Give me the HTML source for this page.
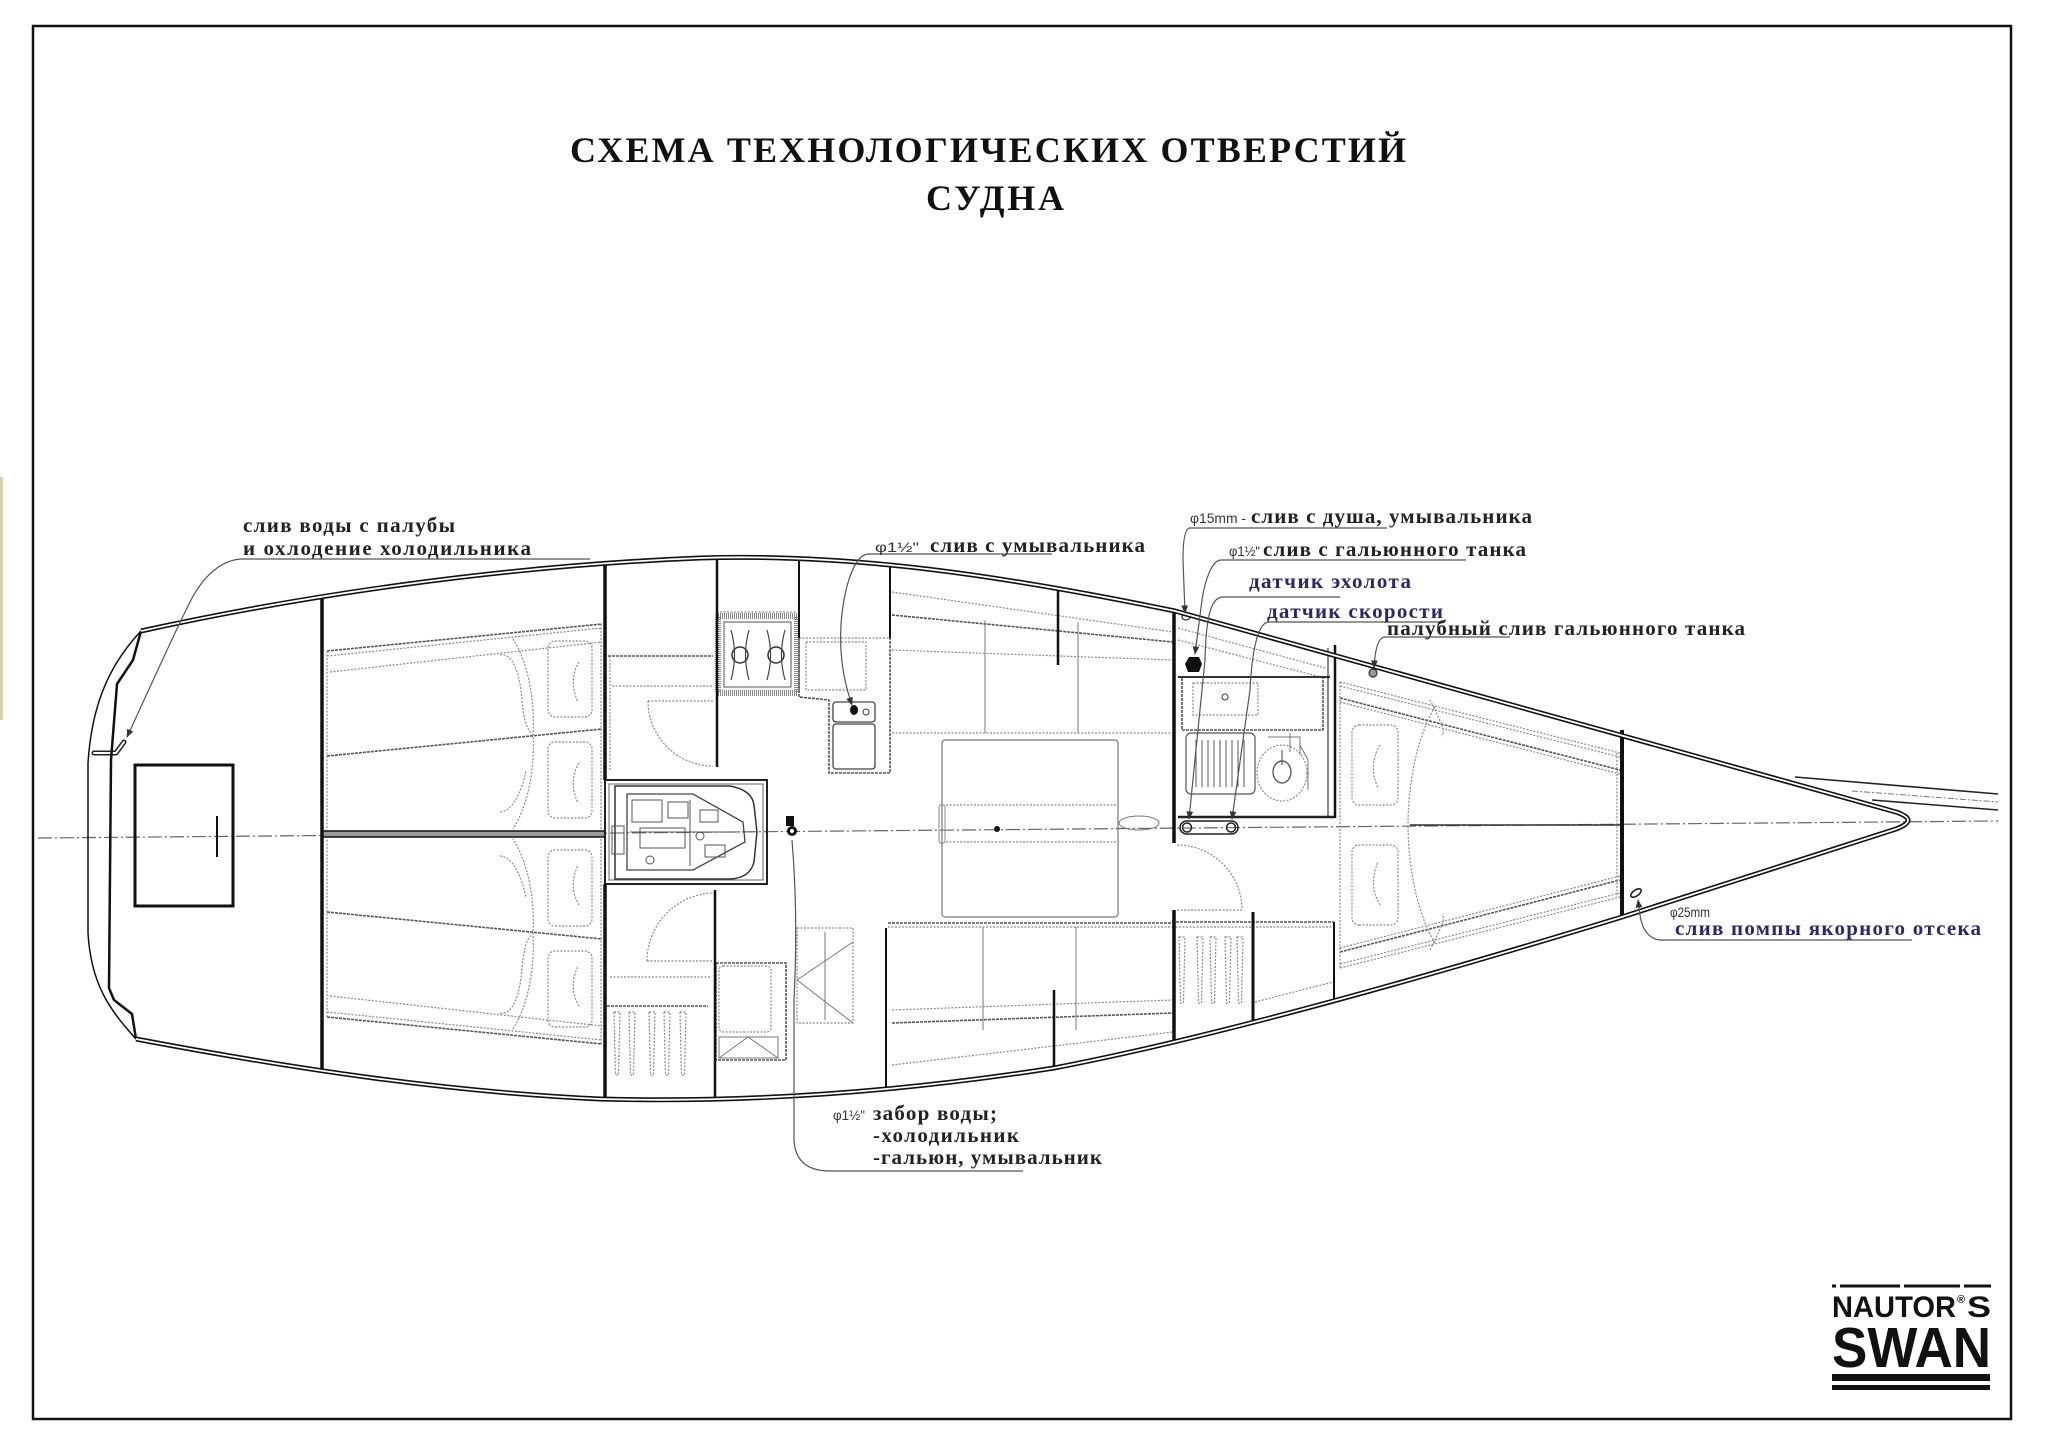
<!DOCTYPE html>
<html><head><meta charset="utf-8">
<style>
html,body{margin:0;padding:0;background:#fff;}
svg{display:block;}
.t{font-family:"Liberation Serif","DejaVu Serif",serif;font-weight:bold;fill:#222;font-size:21px;}
.nv{fill:#2b2866;}
.sm{font-family:"Liberation Sans","DejaVu Sans",sans-serif;font-size:14px;fill:#333;}
.ttl{font-family:"Liberation Serif","DejaVu Serif",serif;font-weight:bold;fill:#111;font-size:36px;}
.g{fill:none;stroke:#8a8a8a;stroke-width:1.2;stroke-dasharray:2 1.5;}
.gd{fill:none;stroke:#555;stroke-width:1.6;stroke-dasharray:3 1;}
.gs{fill:none;stroke:#777;stroke-width:1;}
.bk{fill:none;stroke:#111;stroke-linecap:butt;}
.ld{fill:none;stroke:#555;stroke-width:1.2;}
.logo{font-family:"Liberation Sans","DejaVu Sans",sans-serif;font-weight:bold;fill:#111;}
</style></head><body>
<svg width="2048" height="1443" viewBox="0 0 2048 1443" xmlns="http://www.w3.org/2000/svg">
<defs>
<marker id="ar" viewBox="0 0 10 10" refX="9" refY="5" markerWidth="7" markerHeight="7" orient="auto"><path d="M0,1 L10,5 L0,9 z" fill="#333"/></marker>
</defs>
<rect x="0" y="0" width="2048" height="1443" fill="#fff"/>
<rect x="0" y="477" width="3" height="243" fill="#d9cfae"/>
<!-- frame -->
<rect x="33" y="26" width="1978" height="1393" fill="none" stroke="#111" stroke-width="2.5"/>

<!-- title -->
<text class="ttl" x="570" y="162" textLength="836" lengthAdjust="spacing">СХЕМА ТЕХНОЛОГИЧЕСКИХ ОТВЕРСТИЙ</text>
<text class="ttl" x="926" y="210" textLength="138" lengthAdjust="spacing">СУДНА</text>

<!-- centerline -->
<line x1="38" y1="838" x2="1998" y2="821" stroke="#666" stroke-width="1.2" stroke-dasharray="14 3 2 3"/>

<!-- stern box -->
<rect x="135" y="765" width="98" height="141" fill="none" stroke="#111" stroke-width="3"/>
<line x1="217" y1="816" x2="217" y2="857" stroke="#111" stroke-width="2"/>

<!-- stern tube -->
<path d="M94,753 L116,753 L124,742" fill="none" stroke="#222" stroke-width="5" stroke-linecap="round" stroke-linejoin="round"/>
<path d="M94,753 L116,753 L124,742" fill="none" stroke="#fff" stroke-width="2" stroke-linecap="round" stroke-linejoin="round"/>

<!-- ===== AFT CABIN (top) ===== -->
<g id="aftc">
<path class="gd" d="M327,651 L602,624"/>
<path class="g" d="M327,656 L602,628"/>
<path class="g" d="M330,672 L602,642"/>
<path class="gd" d="M327,756 L602,729"/>
<path class="g" d="M601,624 L601,830"/>
<path class="g" d="M327,651 L327,830"/>
<rect class="g" x="548" y="641" width="44" height="76" rx="7"/>
<rect class="g" x="548" y="742" width="44" height="76" rx="7"/>
<path class="g" d="M579,662 Q568,680 578,702"/>
<path class="g" d="M579,763 Q568,781 578,803"/>
<path class="g" d="M513,639 C528,662 535,700 533,734 C535,770 528,805 513,829"/>
<path class="g" d="M500,655 C512,652 520,672 522,700 C524,722 527,730 533,734"/>
<path class="g" d="M500,812 C512,812 522,792 526,770"/>
</g>
<g transform="matrix(1,0,0,-1,0,1668)">
<path class="gd" d="M327,651 L602,624"/>
<path class="g" d="M327,656 L602,628"/>
<path class="g" d="M330,672 L602,642"/>
<path class="gd" d="M327,756 L602,729"/>
<path class="g" d="M601,624 L601,830"/>
<path class="g" d="M327,651 L327,830"/>
<rect class="g" x="548" y="641" width="44" height="76" rx="7"/>
<rect class="g" x="548" y="742" width="44" height="76" rx="7"/>
<path class="g" d="M579,662 Q568,680 578,702"/>
<path class="g" d="M579,763 Q568,781 578,803"/>
<path class="g" d="M513,639 C528,662 535,700 533,734 C535,770 528,805 513,829"/>
<path class="g" d="M500,655 C512,652 520,672 522,700 C524,722 527,730 533,734"/>
<path class="g" d="M500,812 C512,812 522,792 526,770"/>
</g>
<!-- aft cabin divider -->
<rect x="322" y="831" width="283" height="6" fill="#999" stroke="#111" stroke-width="1.5"/>

<!-- ===== passage 605-717 ===== -->
<path class="gd" d="M608,656 L713,656"/>
<path class="g" d="M612,686 L713,686"/>
<path class="g" d="M610,656 L610,770"/>
<path class="g" d="M648,701 A65,65 0 0 0 713,766"/>
<path class="g" d="M648,701 L713,701"/>
<path class="g" d="M610,977 L710,977"/>
<path class="gd" d="M607,1006 L708,1006"/>
<path class="g" d="M647,961 A68,68 0 0 1 715,893"/>
<path class="g" d="M647,961 L715,961"/>
<g class="g">
<path d="M614,1012 L620,1012 L618.5,1075 L615.5,1075 Z"/>
<path d="M629,1012 L635,1012 L633.5,1075 L630.5,1075 Z"/>
<path d="M649,1012 L655,1012 L653.5,1075 L650.5,1075 Z"/>
<path d="M664,1012 L670,1012 L668.5,1075 L665.5,1075 Z"/>
<path d="M680,1012 L686,1012 L684.5,1075 L681.5,1075 Z"/>
</g>

<!-- engine box -->
<rect x="605" y="780" width="162" height="104" fill="none" stroke="#222" stroke-width="2"/>
<rect x="609" y="784" width="154" height="96" fill="none" stroke="#666" stroke-width="1"/>
<path d="M615,786 L730,786 Q752,790 754,805 L757,832 L754,862 Q750,878 730,879 L615,879 Z" fill="none" stroke="#333" stroke-width="1.5"/>
<path d="M627,794 L693,794 L743,822 L745,842 L693,870 L627,870 Z" fill="none" stroke="#444" stroke-width="1.3"/>
<g fill="none" stroke="#555" stroke-width="1">
<rect x="632" y="800" width="30" height="22"/>
<rect x="640" y="828" width="45" height="20"/>
<rect x="612" y="826" width="12" height="28"/>
<rect x="668" y="802" width="20" height="16"/>
<circle cx="650" cy="860" r="4"/>
<circle cx="700" cy="836" r="4"/>
<line x1="630" y1="832" x2="740" y2="832"/>
<line x1="690" y1="800" x2="690" y2="866"/>
<rect x="700" y="810" width="18" height="12"/>
<rect x="705" y="845" width="20" height="12"/>
</g>
<!-- centre valve -->
<rect x="786" y="816" width="8" height="10" fill="#111"/>
<circle cx="792" cy="831" r="5" fill="#111"/>
<circle cx="792" cy="831" r="2" fill="#fff"/>

<!-- ===== galley ===== -->
<rect x="718" y="616" width="79" height="77" fill="none" stroke="#888" stroke-width="6" stroke-dasharray="1 1"/>
<rect x="724" y="622" width="67" height="65" fill="none" stroke="#555" stroke-width="1"/>
<circle cx="740" cy="655" r="8" fill="none" stroke="#333" stroke-width="1.5"/>
<circle cx="776" cy="655" r="8" fill="none" stroke="#333" stroke-width="1.5"/>
<path d="M731,630 Q738,655 731,680 M749,630 Q742,655 749,680 M767,630 Q774,655 767,680 M785,630 Q778,655 785,680" fill="none" stroke="#444" stroke-width="1.2"/>
<path class="g" d="M720,612 L797,612"/>
<path class="gd" d="M799,638 L799,697 L829,700 L829,773 L890,773 L890,638"/>
<path class="g" d="M799,638 L890,638"/>
<rect class="g" x="806" y="642" width="60" height="48"/>
<rect x="833" y="702" width="42" height="20" rx="3" fill="none" stroke="#444" stroke-width="1.3"/>
<rect x="833" y="724" width="42" height="45" rx="3" fill="none" stroke="#444" stroke-width="1.3"/>
<ellipse cx="854" cy="710" rx="4" ry="5" fill="#111"/>
<circle cx="866" cy="712" r="3" fill="none" stroke="#333"/>

<!-- ===== saloon ===== -->
<path class="g" d="M892,592 L1173,632"/>
<path class="gd" d="M892,615 L1173,642"/>
<path class="g" d="M892,650 L1173,660"/>
<path class="g" d="M892,733 L1173,733"/>
<path class="gs" d="M985,620 L985,733 M1078,622 L1078,733"/>
<rect x="942" y="740" width="176" height="177" rx="3" fill="none" stroke="#777" stroke-width="1.2"/>
<path class="g" d="M946,805 L1118,805 M946,842 L1118,842"/>
<rect x="939" y="805" width="6" height="38" rx="2" fill="none" stroke="#888" stroke-width="1"/>
<circle cx="997" cy="829" r="3" fill="#111"/>
<ellipse cx="1139" cy="823" rx="20" ry="7" fill="none" stroke="#777" stroke-width="1"/>
<path class="gd" d="M888,923 L1173,923"/>
<path class="g" d="M888,927 L1173,927"/>
<path class="g" d="M892,1010 L1173,1000"/>
<path class="gd" d="M892,1023 L1173,1013"/>
<path class="g" d="M892,1065 L1173,1032"/>
<path class="gs" d="M983,927 L983,1030 M1076,927 L1076,1030"/>
<!-- chart table -->
<rect class="g" x="797" y="928" width="56" height="95"/>
<path class="gs" d="M797,980 L853,942 M797,980 L853,1023 M825,932 L825,1020"/>
<!-- small cabinet -->
<rect class="gd" x="716" y="963" width="70" height="97"/>
<rect class="g" x="719" y="966" width="52" height="66" rx="4"/>
<path class="gs" d="M719,1037 L778,1037 L778,1058 L719,1058 Z M719,1058 L748,1037 L778,1058"/>

<!-- ===== head ===== -->
<path class="g" d="M1178,628 L1325,668"/>
<path class="g" d="M1178,640 L1325,678"/>
<rect class="gd" x="1182" y="677" width="141" height="53"/>
<rect class="g" x="1193" y="683" width="65" height="32"/>
<circle cx="1225" cy="697" r="3" fill="none" stroke="#333"/>
<line x1="1178" y1="677" x2="1330" y2="677" stroke="#333" stroke-width="2"/>
<rect x="1186" y="733" width="69" height="61" rx="5" fill="none" stroke="#555" stroke-width="1.2"/>
<g stroke="#555" stroke-width="1">
<line x1="1196" y1="740" x2="1196" y2="787"/><line x1="1202" y1="740" x2="1202" y2="787"/>
<line x1="1208" y1="740" x2="1208" y2="787"/><line x1="1214" y1="740" x2="1214" y2="787"/>
<line x1="1220" y1="740" x2="1220" y2="787"/><line x1="1226" y1="740" x2="1226" y2="787"/>
<line x1="1232" y1="740" x2="1232" y2="787"/><line x1="1238" y1="740" x2="1238" y2="787"/>
<line x1="1244" y1="740" x2="1244" y2="787"/>
</g>
<ellipse class="g" cx="1282" cy="773" rx="25" ry="28"/>
<ellipse cx="1282" cy="772" rx="9" ry="11" fill="none" stroke="#444" stroke-width="1.2"/>
<line x1="1282" y1="750" x2="1282" y2="765" stroke="#444"/>
<path class="gs" d="M1268,737 L1300,737 L1300,755 M1290,733 L1290,752 M1300,745 L1308,760 L1308,790"/>
<line x1="1178" y1="817" x2="1335" y2="817" stroke="#222" stroke-width="2.5"/>
<rect x="1180" y="821" width="58" height="13" rx="6.5" fill="none" stroke="#222" stroke-width="1.6"/>
<circle cx="1187" cy="827.5" r="4.5" fill="none" stroke="#222" stroke-width="1.5"/>
<circle cx="1231" cy="827.5" r="4.5" fill="none" stroke="#222" stroke-width="1.5"/>
<path class="g" d="M1177,845 A65,65 0 0 1 1242,910"/>
<path class="g" d="M1177,910 L1242,910"/>
<!-- fittings head -->
<path d="M1189,657 L1199,657 L1202,664 L1199,672 L1188,672 L1185,664 Z" fill="#111"/>
<ellipse cx="1186" cy="617" rx="4" ry="3" fill="none" stroke="#333" stroke-width="1.3"/>
<!-- lower locker fwd -->
<path class="gd" d="M1172,922 L1334,922"/>
<path class="g" d="M1172,927 L1334,927"/>
<g class="g">
<path d="M1179,937 L1185,937 L1183.5,1003 L1180.5,1003 Z"/>
<path d="M1197,937 L1203,937 L1201.5,1003 L1198.5,1003 Z"/>
<path d="M1210,937 L1216,937 L1214.5,1003 L1211.5,1003 Z"/>
<path d="M1225,937 L1231,937 L1229.5,1003 L1226.5,1003 Z"/>
<path d="M1237,937 L1243,937 L1241.5,1003 L1238.5,1003 Z"/>
</g>
<path class="g" d="M1255,1002 L1333,982"/>

<!-- ===== forward cabin ===== -->
<g>
<path class="g" d="M1340,682 L1620,753"/>
<path class="g" d="M1340,686 L1620,757"/>
<path class="gd" d="M1340,698 L1620,770"/>
<path class="g" d="M1340,702 L1620,774"/>
<rect class="g" x="1352" y="725" width="46" height="80" rx="7"/>
<path class="g" d="M1380,745 Q1368,765 1378,788"/>
<path class="g" d="M1435,707 C1415,740 1408,790 1408,825"/>
<path class="g" d="M1430,700 L1436,712 C1440,722 1446,730 1442,736"/>
</g>
<g transform="matrix(1,0,0,-1,0,1650)">
<path class="g" d="M1340,682 L1620,753"/>
<path class="g" d="M1340,686 L1620,757"/>
<path class="gd" d="M1340,698 L1620,770"/>
<path class="g" d="M1340,702 L1620,774"/>
<rect class="g" x="1352" y="725" width="46" height="80" rx="7"/>
<path class="g" d="M1380,745 Q1368,765 1378,788"/>
<path class="g" d="M1435,707 C1415,740 1408,790 1408,825"/>
<path class="g" d="M1430,700 L1436,712 C1440,722 1446,730 1442,736"/>
</g>
<path class="g" d="M1340,682 L1340,968"/>
<path class="g" d="M1617,753 L1617,897"/>
<line x1="1410" y1="825" x2="1620" y2="825" stroke="#333" stroke-width="1.5"/>
<!-- deck drain -->
<circle cx="1373" cy="673" r="4" fill="#999" stroke="#333" stroke-width="1.2"/>
<!-- anchor drain -->
<ellipse cx="1636" cy="893" rx="6" ry="3" transform="rotate(-35 1636 893)" fill="none" stroke="#222" stroke-width="1.6"/>

<!-- ===== bulkheads ===== -->
<g class="bk">
<path d="M322,596 L322,1071" stroke-width="3.5"/>
<path d="M605,564 L605,780 M605,884 L605,1098" stroke-width="3.5"/>
<path d="M717,558 L717,767" stroke-width="2.5"/>
<path d="M715,890 L715,1100" stroke-width="2.5"/>
<path d="M799,560 L799,638 M890,567 L890,638" stroke-width="2"/>
<path d="M1058,587 L1058,665 M1054,990 L1054,1067" stroke-width="2.5"/>
<path d="M1174,609 L1174,843 M1174,910 L1174,1042" stroke-width="3.5"/>
<path d="M1335,645 L1335,818" stroke-width="2.5"/>
<path d="M1328,648 L1328,816" stroke-width="1"/>
<path d="M1253,912 L1253,1023" stroke-width="3"/>
<path d="M1334,922 L1334,1003" stroke-width="2"/>
<path d="M1622,730 L1622,917" stroke-width="4"/>
<path d="M886,928 L886,1091" stroke-width="2"/>
</g>

<!-- ===== stern lines ===== -->
<path d="M141,631 L133,660 L117,684 L111,760 L109,988 L114,1000 L132,1014 L136,1039" fill="none" stroke="#111" stroke-width="2.5" stroke-linejoin="round"/>
<path d="M141,631 C112,662 92,700 88,763 L88,933 C91,985 110,1010 136,1039" fill="none" stroke="#111" stroke-width="1.5"/>

<!-- ===== hull ===== -->
<path d="M141,631 C300,596 500,566 700,558 C850,553 1000,575 1175,611 L1896,812 Q1920,820 1896,829 L1622,917 C1400,985 1200,1040 1054,1068 C900,1092 750,1103 600,1099 C450,1092 300,1070 136,1039" fill="none" stroke="#111" stroke-width="5" stroke-linejoin="round"/>
<path d="M141,631 C300,596 500,566 700,558 C850,553 1000,575 1175,611 L1896,812 Q1920,820 1896,829 L1622,917 C1400,985 1200,1040 1054,1068 C900,1092 750,1103 600,1099 C450,1092 300,1070 136,1039" fill="none" stroke="#fff" stroke-width="1.8" stroke-linejoin="round"/>
<!-- bowsprit -->
<line x1="1795" y1="777" x2="1998" y2="794" stroke="#222" stroke-width="1.6"/>
<line x1="1872" y1="800" x2="1998" y2="810" stroke="#222" stroke-width="1.6"/>
<line x1="1852" y1="791" x2="1998" y2="802" stroke="#777" stroke-width="1" stroke-dasharray="6 2 2 2"/>

<!-- ===== leaders ===== -->
<path class="ld" d="M590,559 L243,559 C225,559 205,572 190,602 C170,642 148,692 127,737" marker-end="url(#ar)"/>
<path class="ld" d="M1052,554 L869,554 C860,554 852,566 846,590 C838,625 838,665 852,705" marker-end="url(#ar)"/>
<path class="ld" d="M1387,528 L1190,528 C1185,528 1183,540 1183,560 L1185,613" marker-end="url(#ar)"/>
<path class="ld" d="M1466,560 L1221,560 C1212,560 1205,580 1202,600 L1195,654" marker-end="url(#ar)"/>
<path class="ld" d="M1340,597 L1223,597 C1210,597 1206,620 1205,660 L1189,819" marker-end="url(#ar)"/>
<path class="ld" d="M1443,622 L1269,622 C1258,622 1252,650 1250,690 L1232,819" marker-end="url(#ar)"/>
<path class="ld" d="M1510,637 L1385,637 C1378,637 1375,650 1374,668" marker-end="url(#ar)"/>
<path class="ld" d="M1912,940 L1661,940 C1650,940 1642,930 1640,915 L1638,900" marker-end="url(#ar)"/>
<path class="ld" d="M1023,1171 L830,1171 C806,1171 795,1160 794,1140 L794,1000 C796,960 797,900 792,840"/>

<!-- ===== labels ===== -->
<text class="t" x="243" y="532" textLength="212" lengthAdjust="spacing">слив воды с палубы</text>
<text class="t" x="243" y="555" textLength="288" lengthAdjust="spacing">и охлодение холодильника</text>

<text class="sm" x="875" y="552" textLength="44" lengthAdjust="spacingAndGlyphs">φ1½"</text>
<text class="t" x="930" y="552" textLength="215" lengthAdjust="spacing">слив с умывальника</text>

<text class="sm" x="1190" y="523" textLength="56" lengthAdjust="spacingAndGlyphs">φ15mm -</text>
<text class="t" x="1251" y="523" textLength="281" lengthAdjust="spacing">слив с душа, умывальника</text>

<text class="sm" x="1229" y="556" textLength="31" lengthAdjust="spacingAndGlyphs">φ1½"</text>
<text class="t" x="1263" y="556" textLength="263" lengthAdjust="spacing">слив с гальюнного танка</text>

<text class="t nv" x="1249" y="588" textLength="162" lengthAdjust="spacing">датчик эхолота</text>
<text class="t nv" x="1267" y="618" textLength="176" lengthAdjust="spacing">датчик скорости</text>
<text class="t" x="1387" y="635" textLength="358" lengthAdjust="spacing">палубный слив гальюнного танка</text>

<text class="sm" x="1670" y="917" textLength="40" lengthAdjust="spacingAndGlyphs">φ25mm</text>
<text class="t nv" x="1675" y="935" textLength="306" lengthAdjust="spacing">слив помпы якорного отсека</text>

<text class="sm" x="833" y="1120" textLength="32" lengthAdjust="spacingAndGlyphs">φ1½"</text>
<text class="t" x="873" y="1120" textLength="124" lengthAdjust="spacing">забор воды;</text>
<text class="t" x="873" y="1142" textLength="146" lengthAdjust="spacing">-холодильник</text>
<text class="t" x="873" y="1164" textLength="229" lengthAdjust="spacing">-гальюн, умывальник</text>

<!-- ===== logo ===== -->
<path d="M1832,1286 L1836,1286 M1840,1286 L1900,1286 M1904,1286 L1960,1286 M1964,1286 L1991,1286" stroke="#111" stroke-width="3"/>
<text class="logo" x="1832" y="1317" font-size="30" textLength="124" lengthAdjust="spacingAndGlyphs">NAUTOR</text>
<text class="logo" x="1957" y="1303" font-size="11">®</text>
<text class="logo" x="1967" y="1317" font-size="30" textLength="24" lengthAdjust="spacingAndGlyphs">S</text>
<text class="logo" x="1832" y="1367" font-size="57" textLength="159" lengthAdjust="spacingAndGlyphs">SWAN</text>
<rect x="1832" y="1374" width="158" height="7" fill="#111"/>
<rect x="1832" y="1385" width="158" height="5" fill="#111"/>
</svg>
</body></html>
